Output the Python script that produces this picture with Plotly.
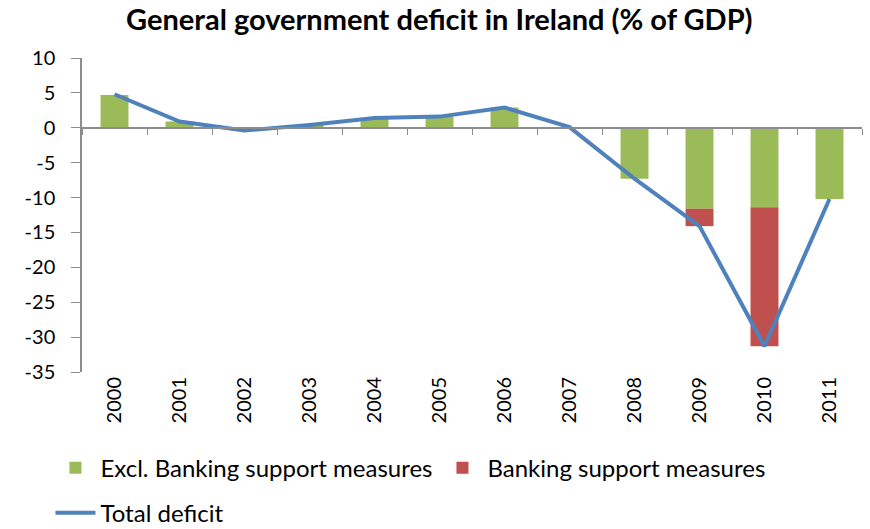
import plotly.graph_objects as go

years = ["2000", "2001", "2002", "2003", "2004", "2005",
         "2006", "2007", "2008", "2009", "2010", "2011"]
excl_banking = [4.7, 0.9, -0.4, 0.4, 1.4, 1.6, 2.9, 0.1, -7.3, -11.6, -11.4, -10.2]
banking = [0, 0, 0, 0, 0, 0, 0, 0, 0, -2.5, -19.9, 0]
total = [4.8, 0.9, -0.4, 0.4, 1.4, 1.6, 2.9, 0.1, -7.3, -14.1, -31.3, -10.2]

y_ticks = [10, 5, 0, -5, -10, -15, -20, -25, -30, -35]
y_tick_text = ["10", "5", "0", "-5", "-10", "-15", "-20", "-25", "-30", "-35"]

FONT = "Lato, Liberation Sans, Arial, sans-serif"
AXIS_GREY = "#8c8c8c"

fig = go.Figure()
fig.add_trace(go.Bar(x=years, y=excl_banking, name="Excl. Banking support measures",
                     marker=dict(color="#9BBB59", line=dict(width=0)),
                     legend="legend", width=0.43))
fig.add_trace(go.Bar(x=years, y=banking, name="Banking support measures",
                     marker=dict(color="#C0504D", line=dict(width=0)),
                     legend="legend", width=0.43))
fig.add_trace(go.Scatter(x=years, y=total, name="Total deficit", mode="lines",
                         line=dict(color="#4F81BD", width=4),
                         xaxis="x2", legend="legend2"))

zero_pos = (0 - (-35)) / (10 - (-35))

fig.update_layout(
    width=870, height=529,
    barmode="relative",
    paper_bgcolor="white", plot_bgcolor="white",
    margin=dict(l=82, r=8, t=58, b=157),
    font=dict(family=FONT, size=20, color="#000000"),
    title=dict(text="<b>General government deficit in Ireland (% of GDP)</b>",
               x=0.505, xanchor="center", y=0.962, yanchor="middle",
               font=dict(family=FONT, size=29, color="#000000")),
    xaxis=dict(type="category", categoryorder="array", categoryarray=years,
               range=[-0.5, 11.5], showline=False, ticks="", tickangle=-90,
               showgrid=False, zeroline=False,
               tickfont=dict(family=FONT, size=20, color="#000000")),
    xaxis2=dict(type="category", categoryorder="array", categoryarray=years,
                range=[-0.5, 11.5], overlaying="x", anchor="free",
                position=zero_pos, showline=True, linecolor=AXIS_GREY,
                linewidth=1.5, ticks="outside", tickson="boundaries",
                ticklen=6, tickcolor=AXIS_GREY, showticklabels=False,
                showgrid=False, zeroline=False),
    yaxis=dict(range=[-35, 10], tickmode="array", tickvals=y_ticks,
               ticktext=y_tick_text, showline=True, linecolor=AXIS_GREY,
               linewidth=1.5, ticks="outside", ticklen=9, tickcolor=AXIS_GREY,
               ticklabelstandoff=12, showgrid=False, zeroline=False,
               tickfont=dict(family=FONT, size=20, color="#000000")),
    legend=dict(orientation="h", xref="container", yref="container",
                x=0.058, y=0.115, xanchor="left", yanchor="middle",
                font=dict(family=FONT, size=24), traceorder="normal",
                itemwidth=40, bgcolor="rgba(0,0,0,0)"),
    legend2=dict(orientation="h", xref="container", yref="container",
                 x=0.058, y=0.03, xanchor="left", yanchor="middle",
                 font=dict(family=FONT, size=24), itemwidth=40,
                 bgcolor="rgba(0,0,0,0)"),
)

fig.write_html("out.html")
